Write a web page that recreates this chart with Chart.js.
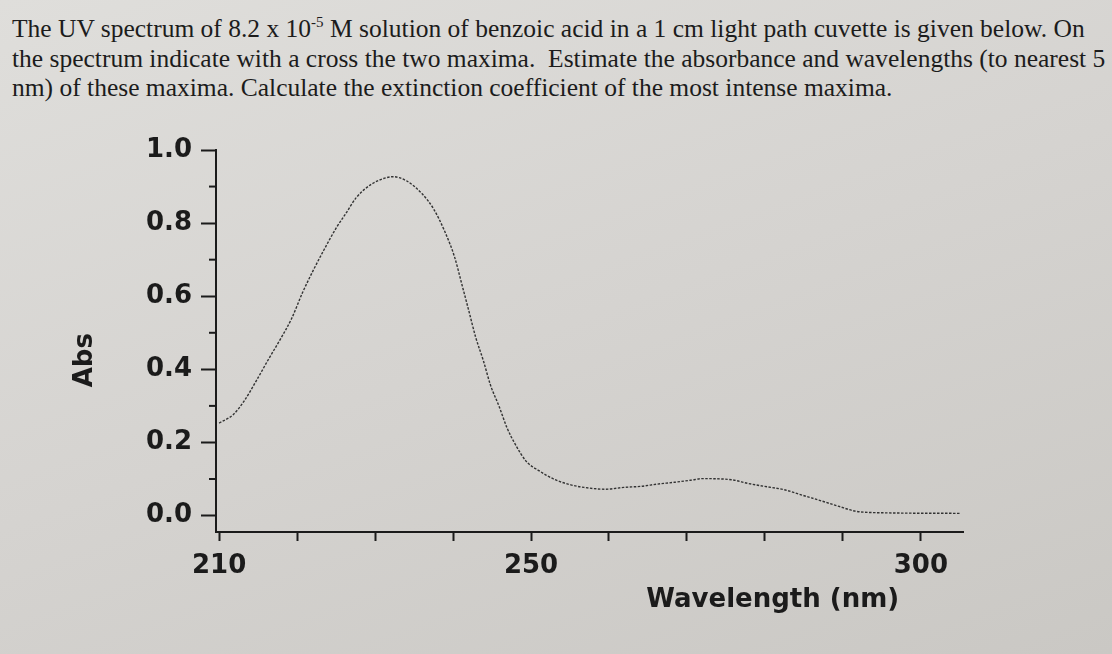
<!DOCTYPE html>
<html>
<head>
<meta charset="utf-8">
<script src="https://cdn.jsdelivr.net/npm/chart.js@4.4.1/dist/chart.umd.min.js"></script>
<style>
    html, body { margin: 0; padding: 0; }
    body {
        width: 1112px; height: 654px; overflow: hidden; position: relative;
        background: linear-gradient(160deg, #dfdedb 0%, #d5d3d0 50%, #cac8c4 100%);
    }
    #question {
        position: absolute; left: 12px; top: 14px;
        font-family: "Liberation Serif", "Times New Roman", serif;
        font-size: 25.5px; line-height: 29.5px; color: #1c1c1c; white-space: nowrap;
    }
    #question sup { font-size: 15px; line-height: 0; vertical-align: 10px; }
    #uv-chart { position: absolute; left: 0; top: 0; }
</style>
</head>
<body>
<div id="question">
The UV spectrum of 8.2 x 10<sup>-5</sup> M solution of benzoic acid in a 1 cm light path cuvette is given below. On<br>
the spectrum indicate with a cross the two maxima.&nbsp; Estimate the absorbance and wavelengths (to nearest 5<br>
nm) of these maxima. Calculate the extinction coefficient of the most intense maxima.
</div>
<canvas id="uv-chart" width="1112" height="654"></canvas>
<script>
// Spectrum (nm, Abs)
const wavelengths = [210, 211.8, 213.2, 214.8, 216.4, 217.9, 219.3, 220.7, 222.1, 223.4,
    225, 226.3, 227.6, 229.5, 231.1, 232.3, 234, 236, 237.5, 238.9,
    240.2, 241.1, 242, 242.9, 243.9, 244.8, 245.9, 246.9, 247.9, 249.4,
    251, 253.1, 255.1, 256.8, 259.6, 261.9, 264.1, 266.2, 268.4, 270.6,
    272, 275.7, 277.8, 279.9, 282.4, 284.9, 287.4, 289.5, 291.6, 294.1,
    305];
const absorbance = [0.253, 0.276, 0.313, 0.37, 0.43, 0.484, 0.539, 0.61, 0.672, 0.725,
    0.786, 0.828, 0.87, 0.906, 0.922, 0.927, 0.916, 0.881, 0.839, 0.779,
    0.707, 0.635, 0.562, 0.488, 0.423, 0.357, 0.299, 0.241, 0.198, 0.148,
    0.123, 0.098, 0.084, 0.077, 0.072, 0.077, 0.080, 0.086, 0.091, 0.097,
    0.101, 0.098, 0.088, 0.080, 0.071, 0.055, 0.039, 0.025, 0.012, 0.008,
    0.006];

// Axis ticks
const xTicks = [210, 220, 230, 240, 250, 260, 270, 280, 290, 300];
const xLabels = [210, 250, 300];
const yTicks = [0, 0.2, 0.4, 0.6, 0.8, 1.0];
const yMinorTicks = [0.1, 0.3, 0.5, 0.7, 0.9];

const ink = '#1b1b1b';
const labelFont = { family: "'DejaVu Sans', sans-serif", size: 26, weight: 'bold' };

// Minor y ticks + axis titles
const axisExtras = {
    id: 'axisExtras',
    afterDraw(chart) {
        const { ctx, chartArea, scales } = chart;
        ctx.save();
        ctx.strokeStyle = ink;
        ctx.lineWidth = 2;
        yMinorTicks.forEach(v => {
            const y = scales.y.getPixelForValue(v);
            ctx.beginPath();
            ctx.moveTo(chartArea.left - 7, y);
            ctx.lineTo(chartArea.left, y);
            ctx.stroke();
        });

        ctx.fillStyle = ink;
        ctx.font = "bold 26px 'DejaVu Sans', sans-serif";
        ctx.textAlign = 'center';
        ctx.textBaseline = 'middle';
        ctx.fillText('Wavelength (nm)', scales.x.getPixelForValue(281), chartArea.bottom + 68);

        ctx.translate(chartArea.left - 131, scales.y.getPixelForValue(0.425));
        ctx.rotate(-Math.PI / 2);
        ctx.fillText('Abs', 0, 0);
        ctx.restore();
    }
};

const ctx = document.getElementById('uv-chart').getContext('2d');
new Chart(ctx, {
    type: 'line',
    data: {
        datasets: [{
            data: wavelengths.map((w, i) => ({ x: w, y: absorbance[i] })),
            borderColor: '#333333',
            borderWidth: 1.4,
            borderDash: [2.5, 1.5],
            pointRadius: 0,
            cubicInterpolationMode: 'monotone',
            fill: false
        }]
    },
    options: {
        responsive: false,
        animation: false,
        layout: { padding: { top: 150, left: 0, right: 149, bottom: 62 } },
        plugins: { legend: { display: false }, tooltip: { enabled: false } },
        scales: {
            x: {
                type: 'linear',
                min: 209.6,
                max: 305.4,
                afterBuildTicks: axis => { axis.ticks = xTicks.map(v => ({ value: v })); },
                afterFit: axis => { axis.height = 60; },
                ticks: {
                    autoSkip: false,
                    maxRotation: 0,
                    padding: 10,
                    color: ink,
                    font: labelFont,
                    callback: v => xLabels.includes(v) ? String(v) : ''
                },
                grid: { drawOnChartArea: false, drawTicks: true, tickLength: 9, tickWidth: 2, tickColor: ink },
                border: { display: true, color: ink, width: 2 }
            },
            y: {
                min: -0.045,
                max: 1.0,
                afterBuildTicks: axis => { axis.ticks = yTicks.map(v => ({ value: v })); },
                afterFit: axis => { axis.width = 216; },
                ticks: {
                    padding: 9,
                    color: ink,
                    font: labelFont,
                    callback: v => v.toFixed(1)
                },
                grid: { drawOnChartArea: false, drawTicks: true, tickLength: 15, tickWidth: 2, tickColor: ink },
                border: { display: true, color: ink, width: 2 }
            }
        }
    },
    plugins: [axisExtras]
});
</script>
</body>
</html>
